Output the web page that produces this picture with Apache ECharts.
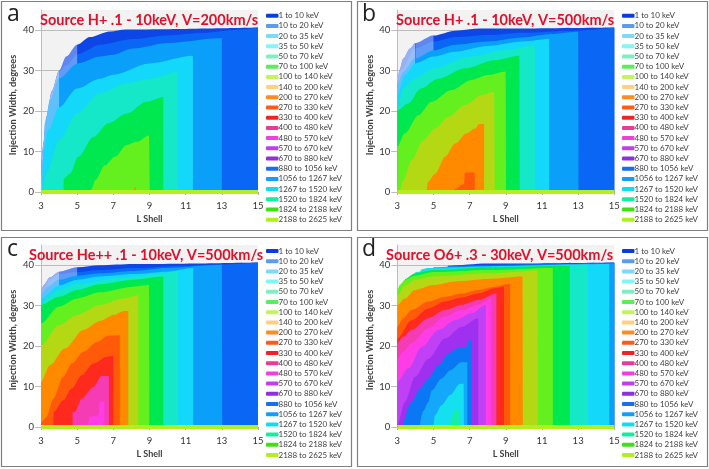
<!DOCTYPE html>
<html>
<head>
<meta charset="utf-8">
<style>
  html, body { margin: 0; padding: 0; background: #fff; }
  #chart { width: 709px; height: 469px; }
</style>
<script src="https://cdn.jsdelivr.net/npm/echarts@6/dist/echarts.min.js"></script>
</head>
<body>
<div id="chart"></div>
<script>
const legendNames = ['1 to 10 keV', '10 to 20 keV', '20 to 35 keV', '35 to 50 keV', '50 to 70 keV', '70 to 100 keV', '100 to 140 keV', '140 to 200 keV', '200 to 270 keV', '270 to 330 keV', '330 to 400 keV', '400 to 480 keV', '480 to 570 keV', '570 to 670 keV', '670 to 880 keV', '880 to 1056 keV', '1056 to 1267 keV', '1267 to 1520 keV', '1520 to 1824 keV', '1824 to 2188 keV', '2188 to 2625 keV'];
const legendColors = ['#0c3be0', '#5b9cec', '#7ed8f6', '#82f6f6', '#80eec4', '#5aee5a', '#c4f45c', '#ffd080', '#ff8a20', '#ff5a18', '#f02222', '#e83c96', '#f040dc', '#c040e8', '#9030dc', '#1a6ee8', '#14a0f2', '#12dcee', '#14eea0', '#40e014', '#b0f020'];
const bandColors = ['#0d45e6', '#0a66f5', '#0aa0fa', '#14d8fa', '#14e8c8', '#00e850', '#64f01e', '#b4d814', '#ff8a00', '#ff5a0a', '#ff2a1e', '#f53cb4', '#ff3ce6', '#c040f5', '#a030f0', '#0a78f5', '#14a8fa', '#14e0f0', '#14f0a0'];

const titles = ['Source H+ .1 - 10keV, V=200km/s', 'Source H+ .1 - 10keV, V=500km/s', 'Source He++ .1 - 10keV, V=500km/s', 'Source O6+ .3 - 30keV, V=500km/s'];
const letters = ['a', 'b', 'c', 'd'];
const xTicks = [3, 5, 7, 9, 11, 13, 15];
const yTicks = [0, 10, 20, 30, 40];
const baseLine = [[3, 0], [15, 0]];

const aBands = [
  [[3, 0], [3.04, 8], [3.13, 12], [3.3, 18.6], [3.6, 25], [4, 30], [4.4, 33.5], [5, 36.4], [5.7, 38.3], [6.8, 39.7], [7.7, 40.2], [15, 40.7]],
  [[3, 0], [3.05, 8], [3.15, 12], [3.3, 18], [3.6, 24.5], [4, 29.8], [4.42, 31.4], [5.03, 34.1], [6.26, 36.4], [8.1, 37.8], [9.95, 38.7], [11.8, 39.3], [14, 40.2], [15, 40.7]],
  [[3.05, 0], [3.1, 8], [3.22, 17], [3.5, 22.7], [4, 28.1], [5.03, 31.8], [6.26, 33.5], [6.9, 33.9], [8.1, 35.5], [9.95, 36.8], [12.9, 38], [13, 38], [13.02, 0]],
  [[3.05, 0], [3.1, 6], [3.13, 10.3], [3.4, 15.3], [4, 21], [5, 25.6], [6.26, 28], [7, 29], [9, 31.8], [11.4, 33.7], [11.42, 0]],
  [[3.1, 0], [3.3, 4.5], [4, 12.8], [5, 19.4], [6.26, 24.4], [7.74, 26.9], [9, 28], [10.56, 29.7], [10.58, 0]],
  [[4.25, 0], [4.25, 3.3], [4.6, 4.5], [5.06, 8.7], [5.9, 13.6], [6.72, 17], [7.74, 19.4], [8.84, 22.3], [9.76, 23.5], [9.78, 0]],
  [[5.75, 0], [5.8, 0.8], [6, 2.9], [6.54, 6.6], [7.1, 8.7], [7.74, 11.6], [8.3, 12.4], [8.97, 14], [9.02, 0]],
  [],
  [[8.1, 0], [8.2, 1.3], [8.3, 0]]
];
const aFades = [
  [[4, 0], [4, 30], [4.4, 33.5], [5, 36.4], [5, 0]],
  [[3, 0], [3.04, 8], [3.13, 12], [3.3, 18.6], [3.6, 25], [4, 30], [4, 0]],
  [[3, 0], [3.04, 8], [3.13, 12], [3.3, 18.6], [3.6, 25], [4, 30], [4, 0]],
  [[3.05, 0], [3.1, 8], [3.22, 17], [3.5, 22.7], [4, 28.1], [4, 0]]
];
const aFadeAfter = [1, 1, 1, 2];

const bBands = [
  [[3, 0], [3, 26.9], [3.11, 30], [3.33, 33], [3.7, 35.5], [3.98, 36.8], [5, 38.7], [6.2, 39.9], [7.6, 40.4], [15, 40.7]],
  [[3, 0], [3, 26.7], [3.2, 30], [3.98, 35.5], [5.03, 37.2], [6.2, 38.3], [8, 38.8], [9.9, 39.4], [12.8, 39.9], [15, 40.7]],
  [[3, 0], [3, 26.5], [3.33, 29.7], [3.98, 33], [5, 35], [6.2, 36.4], [8, 37.2], [9.9, 38.2], [11.4, 39], [13, 39.6], [13.03, 0]],
  [[3, 0], [3, 24], [3.43, 29], [3.98, 31.8], [5, 33.5], [6.2, 34.7], [8, 36.1], [9.9, 37.2], [11.4, 37.8], [11.42, 0]],
  [[3, 0], [3, 21], [3.33, 25.6], [3.98, 28], [5, 30.6], [7.1, 33.5], [9, 35.1], [10.62, 36.2], [10.64, 0]],
  [[3, 0], [3, 20.2], [3.6, 21.9], [4.3, 25.6], [5.26, 28], [6.75, 30.6], [8.4, 32.6], [9.75, 33.7], [9.78, 0]],
  [[3, 0], [3, 11.2], [3.42, 14.5], [4.17, 19], [4.9, 22.3], [6, 25.2], [7.1, 27.7], [8, 28.9], [8.99, 29.8], [9.02, 0]],
  [[3.15, 0], [3.33, 2.9], [3.8, 7.9], [4.44, 12.8], [5.1, 15.7], [5.82, 18.6], [6.75, 21.5], [7.67, 24], [8.35, 24.8], [8.4, 0]],
  [[4.62, 0], [4.7, 2.5], [5.1, 4.5], [5.64, 8.7], [6.2, 12], [6.84, 14.5], [7.3, 15.7], [7.52, 16.8], [7.8, 16.8], [7.82, 0]],
  [[6.1, 0], [6.2, 0.8], [6.7, 2], [6.73, 4.8], [7.28, 4.8], [7.3, 0]]
];
const bFades = [
  [[4, 0], [4, 36.9], [5, 38.7], [5, 0]],
  [[3, 0], [3, 26.9], [3.11, 30], [3.33, 33], [3.7, 35.5], [3.98, 36.8], [4, 0]],
  [[3, 0], [3, 26.9], [3.11, 30], [3.33, 33], [3.7, 35.5], [3.98, 36.8], [4, 0]],
  [[3, 0], [3, 26.5], [3.33, 29.7], [3.98, 33], [4, 0]]
];
const bFadeAfter = [1, 1, 1, 2];

const cBands = [
  [[3, 0], [3, 33.5], [3.13, 35], [3.5, 37], [4, 38.4], [5, 39.5], [6.26, 40], [8.1, 40.3], [15, 40.7]],
  [[3, 0], [3, 33.3], [3.5, 36.5], [4, 37.8], [5, 38.3], [6.26, 38.8], [8.1, 39.3], [10.9, 39.9], [13, 40.2], [15, 40.7]],
  [[3, 0], [3, 33], [3.4, 34.7], [4, 36.4], [5, 37.4], [6.26, 38], [8.1, 38.6], [9.95, 39.3], [13, 40.1], [13.03, 0]],
  [[3, 0], [3, 31.8], [4, 35], [5, 36.4], [6.26, 37.2], [8.1, 37.8], [9.95, 38.4], [11.42, 39.3], [11.44, 0]],
  [[3, 0], [3, 30.3], [3.4, 32.2], [4, 33.9], [5, 35.3], [7.18, 36.8], [9.58, 37.8], [10.58, 38.6], [10.6, 0]],
  [[3, 0], [3, 30.2], [4, 32.2], [5, 33.9], [6.26, 35.3], [8.1, 36.4], [9.76, 37.2], [9.78, 0]],
  [[3, 0], [3, 25.6], [4, 29.8], [5, 31.8], [6.26, 33.3], [8.1, 34.7], [8.97, 35.1], [9, 0]],
  [[3, 0], [3, 20.2], [4, 25.2], [5, 27.7], [6.26, 30.2], [7.55, 31.8], [8.38, 32.6], [8.4, 0]],
  [[3, 0], [3, 11.2], [3.5, 15.3], [4.32, 19.4], [5.35, 24], [6.26, 26.2], [7, 27.7], [7.6, 28.7], [7.83, 28.7], [7.85, 0]],
  [[3, 0], [3, 1.2], [3.3, 2.5], [3.68, 7], [4.23, 12.4], [4.7, 15.7], [5.35, 18.6], [6.1, 21], [6.73, 22.6], [7.36, 22.7], [7.38, 0]],
  [[3.68, 0], [3.7, 3.7], [4.23, 6.6], [4.7, 9.5], [5.25, 12.8], [5.9, 15.7], [6.64, 17.4], [7, 17.6], [7.02, 0]],
  [[4.75, 0], [4.75, 3.7], [4.88, 3.7], [5.25, 7], [5.9, 9.9], [6.35, 12.6], [6.75, 12.6], [6.77, 0]],
  [[5.5, 0], [5.55, 0.4], [5.72, 2.5], [6.17, 2.9], [6.27, 6.2], [6.5, 6.4], [6.52, 0]]
];
const cFades = [
  [[4, 0], [4, 38.4], [5, 39.5], [5, 0]],
  [[3, 0], [3, 33.5], [3.13, 35], [3.5, 37], [4, 38.4], [4, 0]],
  [[3, 0], [3, 33.5], [3.13, 35], [3.5, 37], [4, 38.4], [4, 0]],
  [[3, 0], [3, 33], [3.4, 34.7], [4, 36.4], [4, 0]]
];
const cFadeAfter = [1, 1, 1, 2];

const dBands = [
  [[5.6, 0], [5.8, 39.9], [8, 40.4], [15, 40.7]],
  [[5.6, 0], [5.8, 39.8], [8, 40.1], [12, 40.4], [15, 40.6]],
  [[4.9, 0], [5, 39.5], [6, 39.7], [9, 39.9], [13, 40.3], [15, 40.4]],
  [[4.2, 0], [4.3, 38.9], [4.7, 39.3], [6, 39.5], [9, 39.8], [13, 40.2], [14.72, 40.3], [14.74, 0]],
  [[3.9, 0], [4, 38.3], [4.8, 39], [7, 39.4], [10, 39.7], [13.53, 40.1], [13.55, 0]],
  [[3.3, 0], [3.43, 36.6], [3.98, 38], [5, 38.8], [8, 39.5], [12.54, 39.9], [12.56, 0]],
  [[3, 0], [3, 33.9], [3.15, 35.2], [3.43, 36.4], [3.98, 37.4], [5, 38.3], [8, 38.8], [11.6, 39.3], [11.62, 0]],
  [[3, 0], [3, 32.5], [3.43, 35], [3.98, 36.4], [5, 37.2], [8, 38], [10.75, 38.7], [10.78, 0]],
  [[3, 0], [3, 30.2], [3.43, 31.8], [3.98, 33.9], [5, 35.1], [6.2, 36], [8, 36.6], [9.92, 37.2], [9.95, 0]],
  [[3, 0], [3, 24.8], [3.33, 26.9], [3.79, 28.9], [4.72, 31], [5.64, 32.2], [6.56, 33], [7.48, 33.9], [8.4, 34.7], [9.24, 35.5], [9.26, 0]],
  [[3, 0], [3, 21.9], [3.79, 26.4], [4.72, 29.3], [5.64, 31], [6.56, 32], [7.48, 33], [8.4, 34.3], [8.9, 34.7], [8.92, 0]],
  [[3, 0], [3, 20.7], [3.33, 22.3], [3.79, 24], [4.72, 26.9], [5.64, 28.9], [6.56, 30.2], [7.48, 31.4], [8.48, 33], [8.5, 0]],
  [[3, 0], [3, 16.9], [3.33, 18.6], [3.79, 20.7], [4.72, 24.4], [5.64, 27.3], [6.56, 28.9], [7.48, 30.2], [8.2, 31.8], [8.22, 0]],
  [[3, 0], [3, 11.2], [3.61, 14.5], [4.35, 19.8], [5.27, 24], [6.19, 26.4], [7.11, 28.1], [7.89, 30.2], [7.91, 0]],
  [[3, 0], [3, 0.4], [3.42, 6.2], [3.98, 12.4], [4.72, 16.9], [5.64, 21.9], [6.56, 24.8], [7.48, 26.9], [7.5, 0]],
  [[3.28, 0], [3.79, 6.2], [4.25, 9.5], [4.72, 12], [5.27, 15.3], [5.82, 18.2], [6.38, 19.6], [6.84, 19.9], [6.97, 21.5], [7.13, 21.5], [7.15, 0]],
  [[4.25, 0.4], [4.44, 4], [4.72, 6.2], [4.9, 9], [5.45, 12], [5.92, 14], [6.56, 16], [6.87, 16], [6.89, 0]],
  [[5, 0], [5.08, 2.9], [5.45, 5.4], [5.92, 7.9], [6.47, 10.7], [6.67, 10.7], [6.69, 0]],
  [[5.92, 0], [6, 2], [6.19, 4.1], [6.39, 4.1], [6.41, 0]]
];
const dFades = [];
const dFadeAfter = [];

const panels = [
  { bands: aBands, fades: aFades, fadeAfter: aFadeAfter, x: 1, y: 1, plotX: 41, plotY: 10, titleX: 40, titleY: 13, letterX: 7, letterY: 3, legendX: 266, legendY: 10.7 },
  { bands: bBands, fades: bFades, fadeAfter: bFadeAfter, x: 357, y: 1, plotX: 397.3, plotY: 10, titleX: 396, titleY: 13, letterX: 362, letterY: 3, legendX: 622, legendY: 10.7 },
  { bands: cBands, fades: cFades, fadeAfter: cFadeAfter, x: 1, y: 237, plotX: 41, plotY: 245, titleX: 29, titleY: 248, letterX: 7, letterY: 238, legendX: 266, legendY: 246 },
  { bands: dBands, fades: dFades, fadeAfter: dFadeAfter, x: 357, y: 237, plotX: 397.3, plotY: 245, titleX: 386, titleY: 248, letterX: 362, letterY: 238, legendX: 622, legendY: 246 }
];

const font = 'Lato';
const option = {
  animation: false,
  backgroundColor: '#fff',
  title: [],
  grid: [],
  xAxis: [],
  yAxis: [],
  legend: [],
  series: [],
  graphic: []
};

// empty series so every legend entry has its own key colour
legendNames.forEach((name, i) => {
  option.series.push({
    name: name,
    type: 'line',
    xAxisIndex: 0,
    yAxisIndex: 0,
    data: [],
    symbol: 'none',
    itemStyle: { color: legendColors[i] },
    lineStyle: { color: legendColors[i] }
  });
});

panels.forEach((p, n) => {
  option.graphic.push({
    type: 'rect',
    silent: true,
    z: -1,
    shape: { x: p.x + 0.5, y: p.y + 0.5, width: 350, height: 229 },
    style: { fill: 'none', stroke: '#7f7f7f', lineWidth: 1.2 }
  });
  option.grid.push({
    left: p.plotX,
    top: p.plotY,
    width: 217,
    height: 182,
    show: true,
    backgroundColor: '#f2f2f2',
    borderWidth: 0
  });
  option.xAxis.push({
    type: 'value',
    gridIndex: n,
    min: 3,
    max: 15,
    name: 'L Shell',
    nameLocation: 'middle',
    nameGap: 23,
    nameTextStyle: { fontFamily: font, fontWeight: 'bold', fontSize: 9, color: '#404040' },
    splitLine: { show: false },
    axisLine: { show: false },
    axisTick: { show: true, customValues: xTicks, length: 3, lineStyle: { color: '#aaa' } },
    axisLabel: { customValues: xTicks, fontFamily: font, fontSize: 9.5, color: '#333', margin: 9 }
  });
  option.yAxis.push({
    type: 'value',
    gridIndex: n,
    min: 0,
    max: 45,
    name: 'Injection Width, degrees',
    nameLocation: 'middle',
    nameGap: 23,
    nameTextStyle: { fontFamily: font, fontWeight: 'bold', fontSize: 9.2, color: '#404040', padding: [0, 0, 0, -8] },
    splitLine: { show: true, lineStyle: { color: '#bcbcbc', width: 1 } },
    axisLine: { show: true, lineStyle: { color: '#bcbcbc', width: 1 } },
    axisTick: { show: true, customValues: yTicks, length: 6, lineStyle: { color: '#bcbcbc' } },
    axisLabel: { customValues: yTicks, fontFamily: font, fontSize: 9.5, color: '#333', margin: 7 }
  });
  option.title.push({
    text: titles[n],
    left: p.titleX,
    top: p.titleY,
    padding: 0,
    textStyle: { fontFamily: font, fontWeight: 'bold', fontSize: 14.5, color: '#e0102a' }
  });
  option.title.push({
    text: letters[n],
    left: p.letterX,
    top: p.letterY,
    padding: 0,
    textStyle: { fontFamily: 'Open Sans', fontWeight: 'normal', fontSize: 23, color: '#222' }
  });
  option.legend.push({
    data: legendNames,
    orient: 'vertical',
    left: p.legendX,
    top: p.legendY,
    padding: 0,
    icon: 'roundRect',
    itemWidth: 12.5,
    itemHeight: 4,
    itemGap: 0.2,
    selectedMode: false,
    textStyle: { fontFamily: font, fontSize: 8, color: '#404040', lineHeight: 10, padding: [0, 0, 0, -5] }
  });

  const addArea = (name, data, color) => {
    option.series.push({
      name: name,
      type: 'line',
      xAxisIndex: n,
      yAxisIndex: n,
      data: data,
      symbol: 'none',
      silent: true,
      smooth: 0.3,
      smoothMonotone: 'x',
      lineStyle: { width: 0 },
      areaStyle: { color: color, opacity: 1 }
    });
  };
  p.bands.forEach((band, i) => {
    if (band.length) addArea(legendNames[i], band, bandColors[i]);
    p.fadeAfter.forEach((after, f) => {
      if (after === i) addArea('fade', p.fades[f], 'rgba(255,255,255,0.35)');
    });
  });
  // thin strip of the last energy band along the axis
  option.series.push({
    name: legendNames[20],
    type: 'line',
    xAxisIndex: n,
    yAxisIndex: n,
    data: baseLine,
    symbol: 'none',
    silent: true,
    clip: false,
    lineStyle: { color: '#b5ee1e', width: 4, cap: 'butt' }
  });
});

const chart = echarts.init(document.getElementById('chart'), null, { renderer: 'canvas' });
chart.setOption(option);
</script>
</body>
</html>
